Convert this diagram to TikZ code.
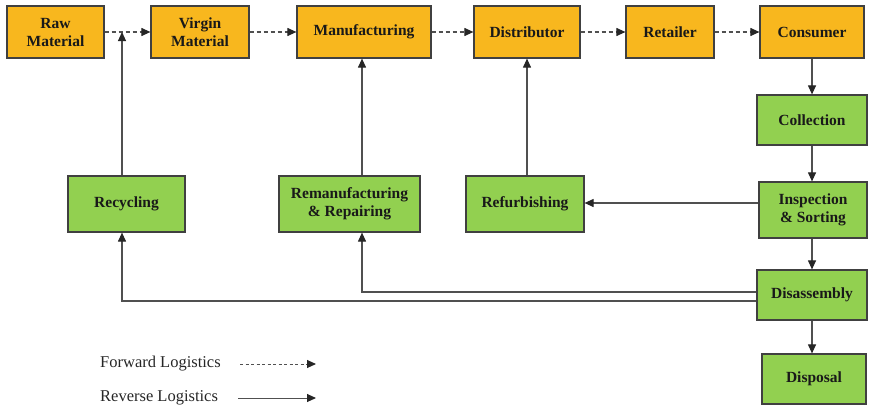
\documentclass[tikz,border=0pt]{standalone}
\usepackage{fontspec}
\setmainfont{Liberation Serif}
\usetikzlibrary{arrows.meta}
\definecolor{boxorange}{RGB}{248,183,30}
\definecolor{boxgreen}{RGB}{146,208,80}
\definecolor{edgegray}{RGB}{64,64,64}
\definecolor{linegray}{RGB}{80,80,80}
\tikzset{
  base/.style={draw=edgegray, line width=1.2pt, align=center, inner sep=0pt,
    font=\fontsize{15.5}{18}\selectfont\bfseries, text=black!90},
  obox/.style={base, fill=boxorange},
  gbox/.style={base, fill=boxgreen},
  tip/.style={-{Triangle[length=9pt,width=8pt,fill=black!85,color=black!85]}},
  fwd/.style={draw=linegray, line width=1.1pt, dash pattern=on 4pt off 3pt, tip},
  rev/.style={draw=linegray, line width=1.1pt, tip},
  legtext/.style={font=\fontsize{16.5}{18}\selectfont, anchor=west, inner sep=0pt, text=black!85}
}
\begin{document}
\begin{tikzpicture}[x=1pt,y=-1pt]
\useasboundingbox (0,0) rectangle (869,410);
% top row
\node[obox, minimum width=97, minimum height=52] (raw) at (55.5,32) {Raw\\Material};
\node[obox, minimum width=98, minimum height=52] (virgin) at (200,32) {Virgin\\Material};
\node[obox, minimum width=134, minimum height=52] (manu) at (364,32) {Manufacturing};
\node[obox, minimum width=106, minimum height=52] (dist) at (527,32) {Distributor};
\node[obox, minimum width=88, minimum height=52] (ret) at (670,32) {Retailer};
\node[obox, minimum width=104, minimum height=52] (cons) at (812,32) {Consumer};
% right column
\node[gbox, minimum width=110, minimum height=50] (coll) at (812,120) {Collection};
\node[gbox, minimum width=108, minimum height=56] (insp) at (813,210) {Inspection\\\& Sorting};
\node[gbox, minimum width=110, minimum height=50] (dis) at (812,295) {Disassembly};
\node[gbox, minimum width=104, minimum height=50] (disp) at (814,379) {Disposal};
% middle row
\node[gbox, minimum width=117, minimum height=56] (recyc) at (126.5,204) {Recycling};
\node[gbox, minimum width=141, minimum height=56] (reman) at (349.5,204) {Remanufacturing\\\& Repairing};
\node[gbox, minimum width=118, minimum height=56] (refurb) at (525,204) {Refurbishing};
% forward logistics
\draw[fwd] (raw) -- (virgin);
\draw[fwd] (virgin) -- (manu);
\draw[fwd] (manu) -- (dist);
\draw[fwd] (dist) -- (ret);
\draw[fwd] (ret) -- (cons);
% reverse logistics
\coordinate (j1) at (122,32);
\coordinate (xr) at (362,0);
\coordinate (xf) at (527,0);
\draw[rev] (recyc.north -| j1) -- (j1);
\draw[rev] (reman.north -| xr) -- (manu.south -| xr);
\draw[rev] (refurb.north -| xf) -- (dist.south -| xf);
\draw[rev] (cons.south) -- (cons.south |- coll.north);
\draw[rev] (coll.south) -- (coll.south |- insp.north);
\draw[rev] (coll.south |- insp.south) -- (coll.south |- dis.north);
\draw[rev] (coll.south |- dis.south) -- (coll.south |- disp.north);
\coordinate (yi) at (0,203);
\draw[rev] (insp.west |- yi) -- (refurb.east |- yi);
\coordinate (ya) at (0,292);
\coordinate (yb) at (0,301);
\draw[rev] (dis.west |- ya) -- (xr |- ya) -- (reman.south -| xr);
\draw[rev] (dis.west |- yb) -- (j1 |- yb) -- (recyc.south -| j1);
% legend
\node[legtext] (lf) at (100,364) {Forward Logistics};
\node[legtext] (lr) at (100,398) {Reverse Logistics};
\coordinate (lfa) at (240,364);
\coordinate (lfb) at (316,364);
\coordinate (lra) at (238,398);
\coordinate (lrb) at (316,398);
\draw[fwd, line width=1pt, dash pattern=on 3pt off 2.5pt] (lfa) -- (lfb);
\draw[rev, line width=1pt] (lra) -- (lrb);
\end{tikzpicture}
\end{document}
